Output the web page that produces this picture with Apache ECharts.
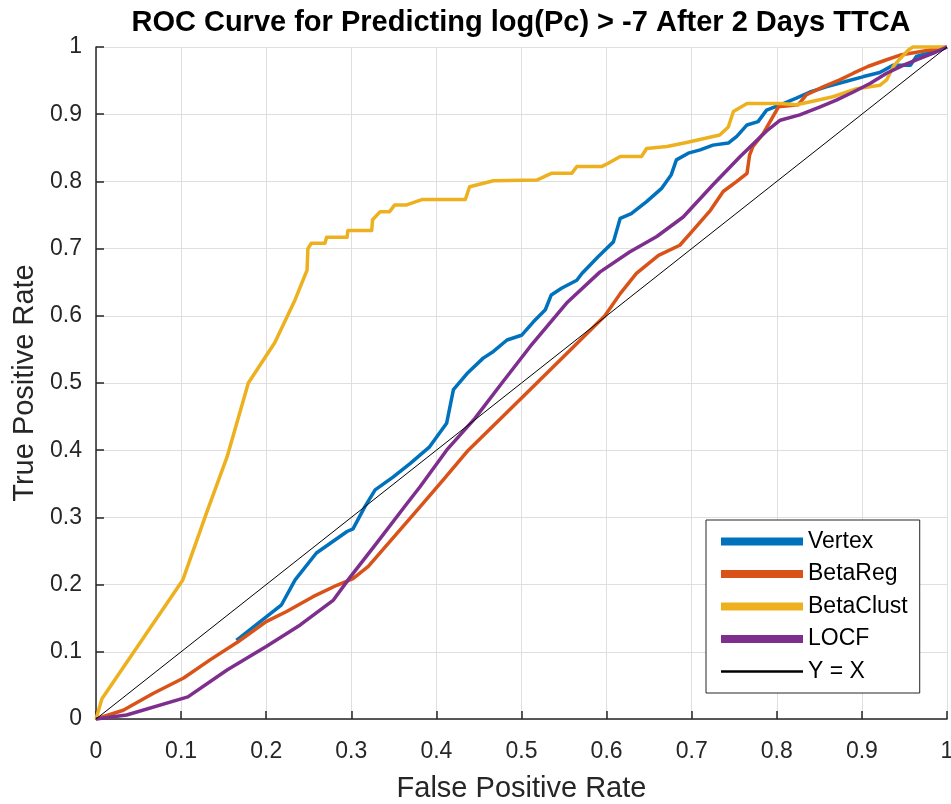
<!DOCTYPE html>
<html>
<head>
<meta charset="utf-8">
<script src="https://cdn.jsdelivr.net/npm/echarts@6/dist/echarts.min.js"></script>
<style>
html,body{margin:0;padding:0;background:#fff;}
#chart{width:951px;height:804px;}
</style>
</head>
<body>
<div id="chart"></div>
<script>
// ---- data ----
const seriesNames = ['Vertex', 'BetaReg', 'BetaClust', 'LOCF', 'Y = X'];

const vertexX = [0.165, 0.218, 0.234, 0.259, 0.295, 0.302, 0.316, 0.328, 0.349, 0.369, 0.392, 0.412, 0.42, 0.436, 0.455, 0.467, 0.483, 0.5, 0.514, 0.528, 0.535, 0.547, 0.565, 0.571, 0.59, 0.608, 0.616, 0.629, 0.647, 0.665, 0.676, 0.682, 0.696, 0.71, 0.725, 0.743, 0.753, 0.765, 0.778, 0.788, 0.804, 0.823, 0.839, 0.859, 0.882, 0.902, 0.921, 0.937, 0.957, 0.964, 0.984, 1];
const vertexY = [0.117, 0.17, 0.207, 0.247, 0.279, 0.283, 0.316, 0.341, 0.36, 0.38, 0.405, 0.44, 0.49, 0.514, 0.537, 0.547, 0.564, 0.571, 0.591, 0.609, 0.631, 0.641, 0.653, 0.663, 0.688, 0.71, 0.745, 0.752, 0.77, 0.79, 0.81, 0.832, 0.842, 0.847, 0.854, 0.857, 0.867, 0.884, 0.889, 0.906, 0.914, 0.924, 0.933, 0.941, 0.949, 0.956, 0.962, 0.973, 0.973, 0.986, 0.993, 1];

const betaRegX = [0, 0.032, 0.067, 0.103, 0.134, 0.167, 0.2, 0.224, 0.255, 0.283, 0.302, 0.32, 0.381, 0.408, 0.4375, 0.478, 0.518, 0.558, 0.598, 0.616, 0.635, 0.661, 0.686, 0.702, 0.722, 0.737, 0.753, 0.765, 0.768, 0.772, 0.784, 0.802, 0.825, 0.835, 0.855, 0.874, 0.89, 0.907, 0.929, 0.945, 0.968, 1];
const betaRegY = [0, 0.013, 0.038, 0.061, 0.088, 0.115, 0.145, 0.16, 0.182, 0.199, 0.209, 0.227, 0.316, 0.356, 0.4, 0.45, 0.5, 0.55, 0.6, 0.633, 0.663, 0.69, 0.705, 0.728, 0.757, 0.785, 0.8, 0.812, 0.839, 0.852, 0.871, 0.911, 0.914, 0.929, 0.941, 0.951, 0.961, 0.971, 0.981, 0.988, 0.993, 1];

const betaClustX = [0, 0.007, 0.102, 0.13, 0.154, 0.179, 0.21, 0.234, 0.248, 0.249, 0.253, 0.269, 0.271, 0.295, 0.296, 0.324, 0.325, 0.334, 0.345, 0.351, 0.365, 0.383, 0.434, 0.439, 0.467, 0.518, 0.535, 0.559, 0.565, 0.594, 0.602, 0.616, 0.641, 0.647, 0.671, 0.694, 0.733, 0.743, 0.749, 0.765, 0.804, 0.823, 0.845, 0.866, 0.894, 0.921, 0.929, 0.937, 0.945, 0.955, 0.96, 1];
const betaClustY = [0, 0.03, 0.207, 0.307, 0.39, 0.5, 0.56, 0.624, 0.668, 0.70, 0.708, 0.708, 0.717, 0.717, 0.727, 0.727, 0.743, 0.755, 0.755, 0.765, 0.765, 0.773, 0.773, 0.792, 0.801, 0.802, 0.812, 0.812, 0.822, 0.822, 0.827, 0.837, 0.837, 0.849, 0.852, 0.858, 0.869, 0.881, 0.904, 0.916, 0.916, 0.914, 0.92, 0.926, 0.938, 0.943, 0.951, 0.971, 0.983, 0.996, 1, 1];

const locfX = [0, 0.036, 0.108, 0.154, 0.2, 0.24, 0.279, 0.298, 0.33, 0.365, 0.381, 0.412, 0.445, 0.477, 0.51, 0.553, 0.592, 0.627, 0.659, 0.69, 0.725, 0.757, 0.788, 0.804, 0.827, 0.851, 0.87, 0.89, 0.91, 0.929, 0.949, 0.964, 0.984, 1];
const locfY = [0, 0.006, 0.033, 0.073, 0.108, 0.14, 0.177, 0.21, 0.262, 0.32, 0.346, 0.4, 0.447, 0.5, 0.554, 0.619, 0.665, 0.695, 0.718, 0.747, 0.795, 0.837, 0.875, 0.891, 0.899, 0.911, 0.921, 0.933, 0.946, 0.961, 0.973, 0.981, 0.991, 1];

const diagX = [0, 1];
const diagY = [0, 1];

const xTickLabels = ['0', '0.1', '0.2', '0.3', '0.4', '0.5', '0.6', '0.7', '0.8', '0.9', '1'];
const yTickLabels = ['0', '0.1', '0.2', '0.3', '0.4', '0.5', '0.6', '0.7', '0.8', '0.9', '1'];

const colors = ['#0072BD', '#D95319', '#EDB120', '#7E2F8E', '#000000'];

function zip(xs, ys) { return xs.map((x, i) => [x, ys[i]]); }

const FONT = "'Liberation Sans', Arial, Helvetica, sans-serif";
const chart = echarts.init(document.getElementById('chart'), null, {renderer: 'canvas'});

const seriesData = [
  zip(vertexX, vertexY),
  zip(betaRegX, betaRegY),
  zip(betaClustX, betaClustY),
  zip(locfX, locfY),
  zip(diagX, diagY)
];

function tickFmt(labels) {
  return function (v) {
    const i = Math.round(v * 10);
    return labels[i] !== undefined ? labels[i] : '';
  };
}

const option = {
  animation: false,
  backgroundColor: '#ffffff',
  title: {
    text: 'ROC Curve for Predicting log(Pc) > -7 After 2 Days TTCA',
    left: 521,
    top: 8,
    textAlign: 'center',
    padding: 0,
    textStyle: {fontFamily: FONT, fontSize: 29, fontWeight: 'bold', color: '#000'}
  },
  grid: {left: 96, right: 4, top: 47, bottom: 85, containLabel: false, outerBoundsMode: 'none'},
  legend: {
    orient: 'vertical',
    left: 706,
    top: 520,
    padding: [10, 12, 10, 15],
    itemWidth: 82,
    itemHeight: 14,
    itemGap: 9.5,
    backgroundColor: '#ffffff',
    borderColor: '#262626',
    borderWidth: 1,
    borderRadius: 0,
    selectedMode: false,
    textStyle: {fontFamily: FONT, fontSize: 23, color: '#000'},
    data: seriesNames.map((n, i) => ({
      name: n,
      icon: 'path://M0,0 L100,0 L100,' + (i === 4 ? '3' : '10') + ' L0,' + (i === 4 ? '3' : '10') + ' Z',
      itemStyle: {color: colors[i]}
    }))
  },
  xAxis: {
    type: 'value',
    min: 0, max: 1, interval: 0.1,
    name: 'False Positive Rate',
    nameLocation: 'middle',
    nameGap: 55,
    nameTextStyle: {fontFamily: FONT, fontSize: 29, color: '#262626'},
    axisLine: {show: true, onZero: false, lineStyle: {color: '#262626', width: 1.5}},
    axisTick: {show: true, inside: true, length: 8, lineStyle: {color: '#262626', width: 1.5}},
    axisLabel: {margin: 21, fontFamily: FONT, fontSize: 23, color: '#262626', formatter: tickFmt(xTickLabels), showMinLabel: true, showMaxLabel: true},
    splitLine: {show: true, lineStyle: {color: '#dfdfdf', width: 1}}
  },
  yAxis: {
    type: 'value',
    min: 0, max: 1, interval: 0.1,
    name: 'True Positive Rate',
    nameLocation: 'middle',
    nameGap: 56,
    nameTextStyle: {fontFamily: FONT, fontSize: 29, color: '#262626'},
    axisLine: {show: true, onZero: false, lineStyle: {color: '#262626', width: 1.5}},
    axisTick: {show: true, inside: true, length: 8, lineStyle: {color: '#262626', width: 1.5}},
    axisLabel: {margin: 14, fontFamily: FONT, fontSize: 23, color: '#262626', formatter: tickFmt(yTickLabels), showMinLabel: true, showMaxLabel: true},
    splitLine: {show: true, lineStyle: {color: '#dfdfdf', width: 1}}
  },
  series: seriesNames.map((n, i) => ({
    name: n,
    type: 'line',
    data: seriesData[i],
    symbol: 'none',
    showSymbol: false,
    clip: false,
    color: colors[i],
    lineStyle: {color: colors[i], width: i === 4 ? 1 : 3.5, join: 'round'},
    z: 2 + i
  }))
};
chart.setOption(option);
</script>
</body>
</html>
